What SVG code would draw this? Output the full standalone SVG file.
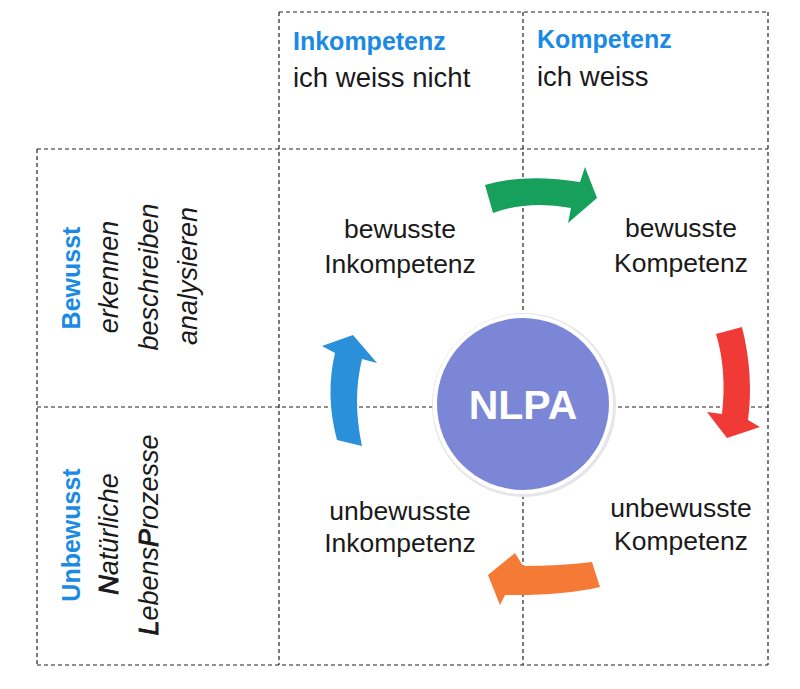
<svg xmlns="http://www.w3.org/2000/svg" width="800" height="689" viewBox="0 0 800 689">
<style>
.grid{stroke:#222;stroke-width:1.2;stroke-dasharray:4 3;fill:none}
.hd{font-family:"Liberation Sans",Arial,sans-serif;font-weight:bold;font-size:25px;fill:#1a8ae4}
.sub{font-family:"Liberation Sans",Arial,sans-serif;font-size:27.5px;fill:#1a1a1a}
.it{font-family:"Liberation Sans",Arial,sans-serif;font-style:italic;font-size:27px;fill:#1a1a1a}
.q{font-family:"Liberation Sans",Arial,sans-serif;font-size:26.5px;fill:#1a1a1a;text-anchor:middle}
.mid{text-anchor:middle}
.hv{stroke:#1a1a1a;stroke-width:0.9}
</style>
<rect width="800" height="689" fill="#ffffff"/>
<g id="grid">
<line class="grid" x1="279" y1="12" x2="768" y2="12"/>
<line class="grid" x1="37" y1="149" x2="768" y2="149"/>
<line class="grid" x1="37" y1="407" x2="768" y2="407"/>
<line class="grid" x1="37" y1="665" x2="768" y2="665"/>
<line class="grid" x1="37" y1="149" x2="37" y2="665"/>
<line class="grid" x1="279" y1="12" x2="279" y2="665"/>
<line class="grid" x1="523" y1="12" x2="523" y2="665"/>
<line class="grid" x1="768" y1="12" x2="768" y2="665"/>
</g>
<g id="head-inkompetenz">
<text class="hd" x="293" y="50">Inkompetenz</text>
<text class="sub" x="293" y="87">ich weiss nicht</text>
</g>
<g id="head-kompetenz">
<text class="hd" x="537" y="48">Kompetenz</text>
<text class="sub" x="537" y="86">ich weiss</text>
</g>
<g id="side-bewusst">
<text class="hd mid" transform="translate(80,278) rotate(-90)">Bewusst</text>
<text class="it mid" transform="translate(118,277) rotate(-90)">erkennen</text>
<text class="it mid" transform="translate(158,277) rotate(-90)">beschreiben</text>
<text class="it mid" transform="translate(197,276) rotate(-90)">analysieren</text>
</g>
<g id="side-unbewusst">
<text class="hd mid" transform="translate(80,535) rotate(-90)">Unbewusst</text>
<text class="it mid" transform="translate(118,534) rotate(-90)"><tspan class="hv">N</tspan>atürliche</text>
<text class="it mid" transform="translate(158,535) rotate(-90)"><tspan class="hv">L</tspan>ebens<tspan class="hv">P</tspan>rozesse</text>
</g>
<g id="q-bewusste-inkompetenz">
<text class="q" x="400" y="238">bewusste</text>
<text class="q" x="400" y="273">Inkompetenz</text>
</g>
<g id="q-bewusste-kompetenz">
<text class="q" x="681" y="237">bewusste</text>
<text class="q" x="681" y="272">Kompetenz</text>
</g>
<g id="q-unbewusste-inkompetenz">
<text class="q" x="400" y="520">unbewusste</text>
<text class="q" x="400" y="552">Inkompetenz</text>
</g>
<g id="q-unbewusste-kompetenz">
<text class="q" x="681" y="517">unbewusste</text>
<text class="q" x="681" y="550">Kompetenz</text>
</g>
<g id="nlpa">
<circle cx="524" cy="405" r="92" fill="#e6e6ea"/>
<circle cx="523" cy="404" r="90" fill="#ffffff"/>
<circle cx="523" cy="404" r="86" fill="#7c86d6"/>
<text x="523" y="419" text-anchor="middle" font-family="'Liberation Sans',Arial,sans-serif" font-weight="bold" font-size="41" fill="#ffffff">NLPA</text>
</g>
<g id="connectors">
<path d="M485,185 Q525,173 580,182 L585,167 L597,198 L568,223 L571,208 Q528,200 493,213 Z" fill="#16a05c"/>
<path d="M716,334 L742,327 Q754,375 748,420 L760,427 L727,438 L707,412 L722,414 Q727,370 716,334 Z" fill="#f03a36"/>
<path d="M600,587 Q560,596 505,595 L500,605 L488,575 L515,553 L523,566 Q560,566 592,562 Z" fill="#f47a36"/>
<path d="M337,440 Q325,395 335,353 L322,346 L353,335 L377,363 L362,359 Q352,400 362,446 Z" fill="#2a90da"/>
</g>
</svg>
